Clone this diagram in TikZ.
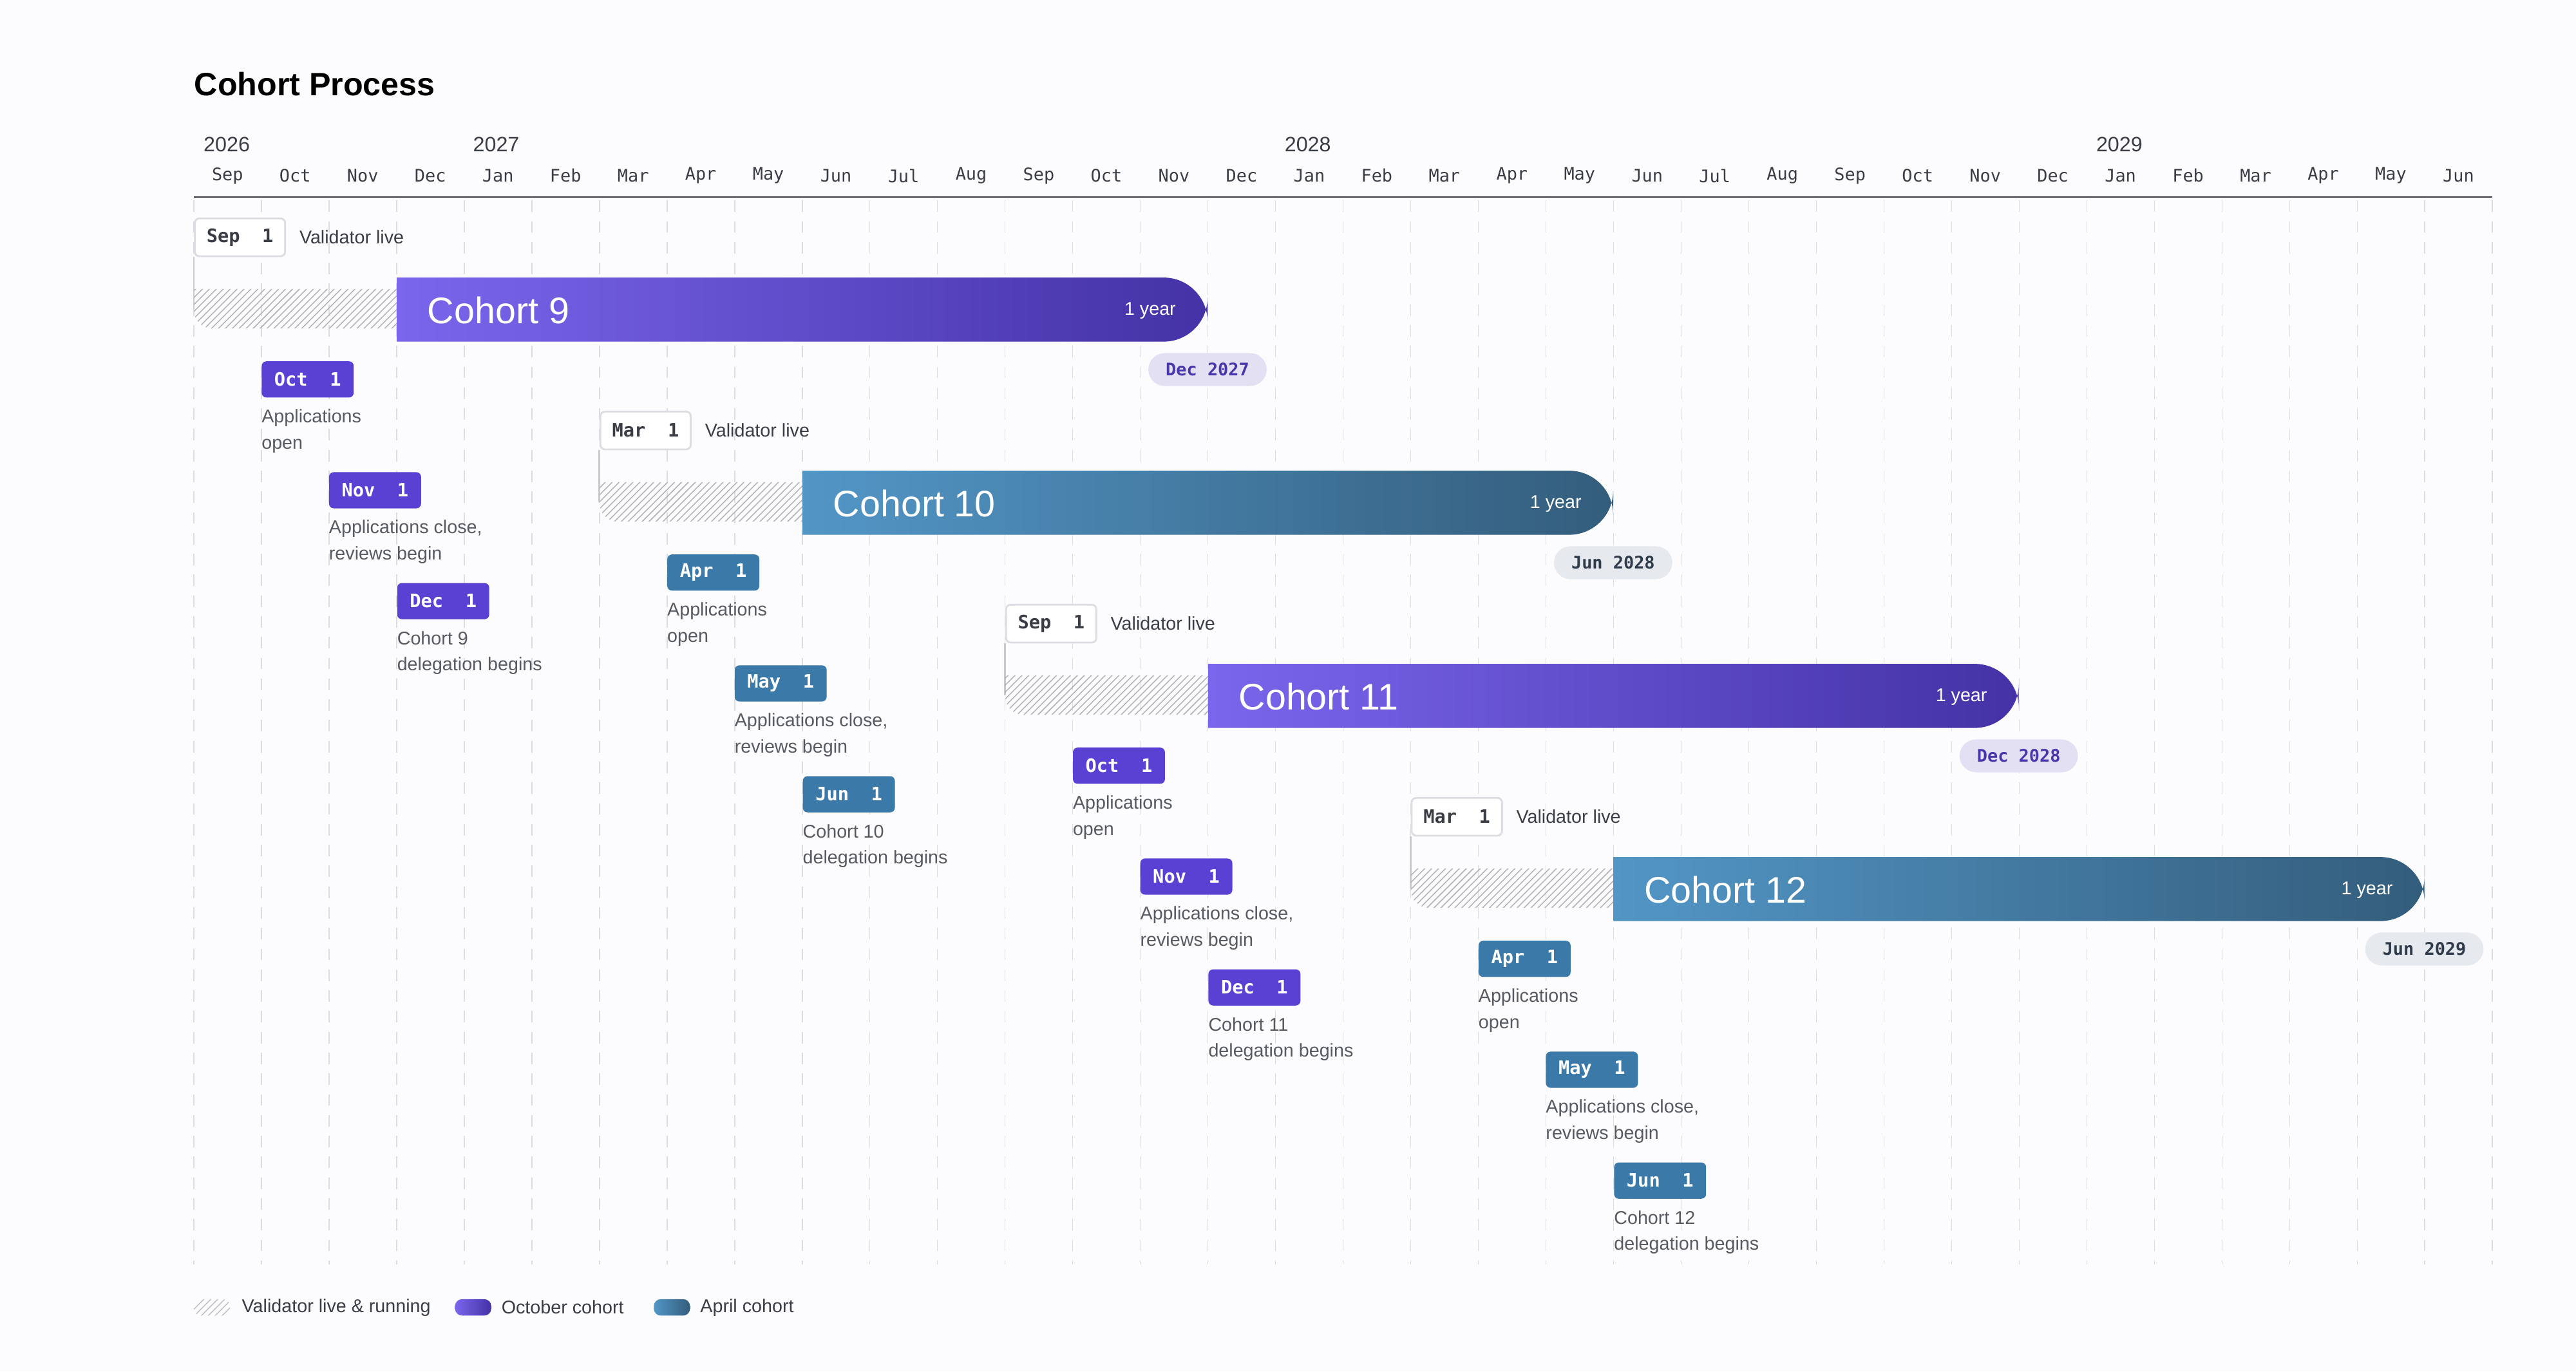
\documentclass[tikz,border=0pt]{standalone}
\usepackage{fontspec}
\setmainfont{Liberation Sans}
\newfontfamily\monofont{DejaVu Sans Mono}
\usetikzlibrary{patterns}
\definecolor{pageBg}{HTML}{FCFCFE}
\definecolor{gridCol}{HTML}{DCDDE2}
\definecolor{inkCol}{HTML}{3A3D45}
\definecolor{purpL}{HTML}{7A66EC}
\definecolor{purpR}{HTML}{4432A6}
\definecolor{purpM}{HTML}{5B40D4}
\definecolor{purpTag}{HTML}{E4E0F4}
\definecolor{purpTxt}{HTML}{4A36AA}
\definecolor{blueL}{HTML}{5296C6}
\definecolor{blueR}{HTML}{345D7C}
\definecolor{blueM}{HTML}{3A79A8}
\definecolor{blueTag}{HTML}{E6E9EE}
\definecolor{blueTxt}{HTML}{2F3B4A}
\tikzset{
  month/.style={font=\monofont\fontsize{7.5}{9}\selectfont, text=inkCol},
  year/.style={font=\fontsize{9}{11}\selectfont, text=inkCol, anchor=west},
  vbox/.style={draw=gridCol, line width=0.8pt, fill=white, rounded corners=2pt, minimum width=1.375cm, minimum height=0.575cm, inner sep=0pt, font=\monofont\bfseries\fontsize{8}{10}\selectfont, text=inkCol, anchor=west},
  milestone/.style={fill=#1M, rounded corners=2pt, minimum width=1.4cm, minimum height=0.55cm, inner sep=0pt, font=\monofont\bfseries\fontsize{8}{10}\selectfont, text=white, anchor=west},
  note/.style={font=\fontsize{8}{11.3}\selectfont, text=inkCol!85, align=left, anchor=north west, inner sep=0pt},
  tag/.style={fill=#1Tag, text=#1Txt, rounded corners=0.25cm, minimum width=1.8cm, minimum height=0.5cm, inner sep=0pt, font=\monofont\bfseries\fontsize{7.5}{9}\selectfont},
  small/.style={font=\fontsize{8}{10}\selectfont, text=inkCol, anchor=west, inner sep=0pt},
}
\begin{document}
\begin{tikzpicture}[x=0.025cm, y=-0.025cm]
  \fill[pageBg] (0,0) rectangle (1568,835);
  \useasboundingbox (0,0) rectangle (1568,835);

  % title and axis
  \node[anchor=west, inner sep=0pt, font=\bfseries\fontsize{14}{16}\selectfont, text=black] (title) at (118,51) {Cohort Process};
  \node[year] (y26) at (119,88) {2026};
  \node[year] (y27) at (283,88) {2027};
  \node[year] (y28) at (777,88) {2028};
  \node[year] (y29) at (1271,88) {2029};
  \foreach \k/\m in {0/Sep,1/Oct,2/Nov,3/Dec,4/Jan,5/Feb,6/Mar,7/Apr,8/May,9/Jun,10/Jul,11/Aug,
                     12/Sep,13/Oct,14/Nov,15/Dec,16/Jan,17/Feb,18/Mar,19/Apr,20/May,21/Jun,22/Jul,23/Aug,
                     24/Sep,25/Oct,26/Nov,27/Dec,28/Jan,29/Feb,30/Mar,31/Apr,32/May,33/Jun}
    \node[month] (m\k) at (138.5+41.15*\k,107) {\m};
  \foreach \k in {0,...,34}
    \draw[gridCol, dash pattern=on 5pt off 4pt, line width=0.4pt] (118+41.15*\k,122) -- (118+41.15*\k,770);
  \draw[inkCol, line width=0.7pt] (118,120) -- (1517,120);

  % cohorts
  \foreach \i/\cn/\col/\vl/\ma/\mb/\mc/\fin in {0/9/purp/Sep/Oct/Nov/Dec/Dec 2027,
                                                1/10/blue/Mar/Apr/May/Jun/Jun 2028,
                                                2/11/purp/Sep/Oct/Nov/Dec/Dec 2028,
                                                3/12/blue/Mar/Apr/May/Jun/Jun 2029}{
    \pgfmathsetmacro{\xo}{118+246.9*\i}
    \pgfmathsetmacro{\yo}{117.6*\i}
    \begin{scope}[shift={(\xo,\yo)}]
      \node[vbox] (v\i) at (0,144.5) {\vl\ \ 1};
      \node[small] (vt\i) at (64,144.5) {Validator live};
      \coordinate (h\i) at (0,188);
      \draw[gridCol!80!gray, line width=0.8pt] (v\i.south west) -- (h\i);
      \fill[pattern=north east lines, pattern color=gray!60]
        (123.5,176) -- (0,176) [rounded corners=8] -- (0,200) [sharp corners] -- (123.5,200) -- cycle;
      \shade[left color=\col L, right color=\col R]
        (123.5,169) -- (123.5,208) [rounded corners=19] -- (617,208) -- (617,169) [sharp corners] -- cycle;
      \node[anchor=west, inner sep=0pt, text=white, font=\fontsize{16}{18}\selectfont] (c\i) at (142,189) {Cohort \cn};
      \node[anchor=east, inner sep=0pt, text=white, font=\fontsize{8}{10}\selectfont] (d\i) at (598,189) {1 year};
      \node[tag=\col] (t\i) at (617,225) {\fin};
      \node[milestone=\col] (a\i) at (41,231) {\ma\ \ 1};
      \node[note] (an\i) at (41,249) {Applications\\open};
      \node[milestone=\col] (b\i) at (82,298.5) {\mb\ \ 1};
      \node[note] (bn\i) at (82,316.5) {Applications close,\\reviews begin};
      \node[milestone=\col] (e\i) at (123.5,366) {\mc\ \ 1};
      \node[note] (en\i) at (123.5,384) {Cohort \cn\\delegation begins};
    \end{scope}
  }

  % legend
  \fill[pattern=north east lines, pattern color=gray!50, rounded corners=3pt] (118,791) rectangle (140,801);
  \node[small] (l1) at (147,796) {Validator live \& running};
  \shade[left color=purpL, right color=purpR, rounded corners=3pt] (277,791) rectangle (299,801);
  \node[small] (l2) at (305,796) {October cohort};
  \shade[left color=blueL, right color=blueR, rounded corners=3pt] (398,791) rectangle (420,801);
  \node[small] (l3) at (426,796) {April cohort};
\end{tikzpicture}
\end{document}
